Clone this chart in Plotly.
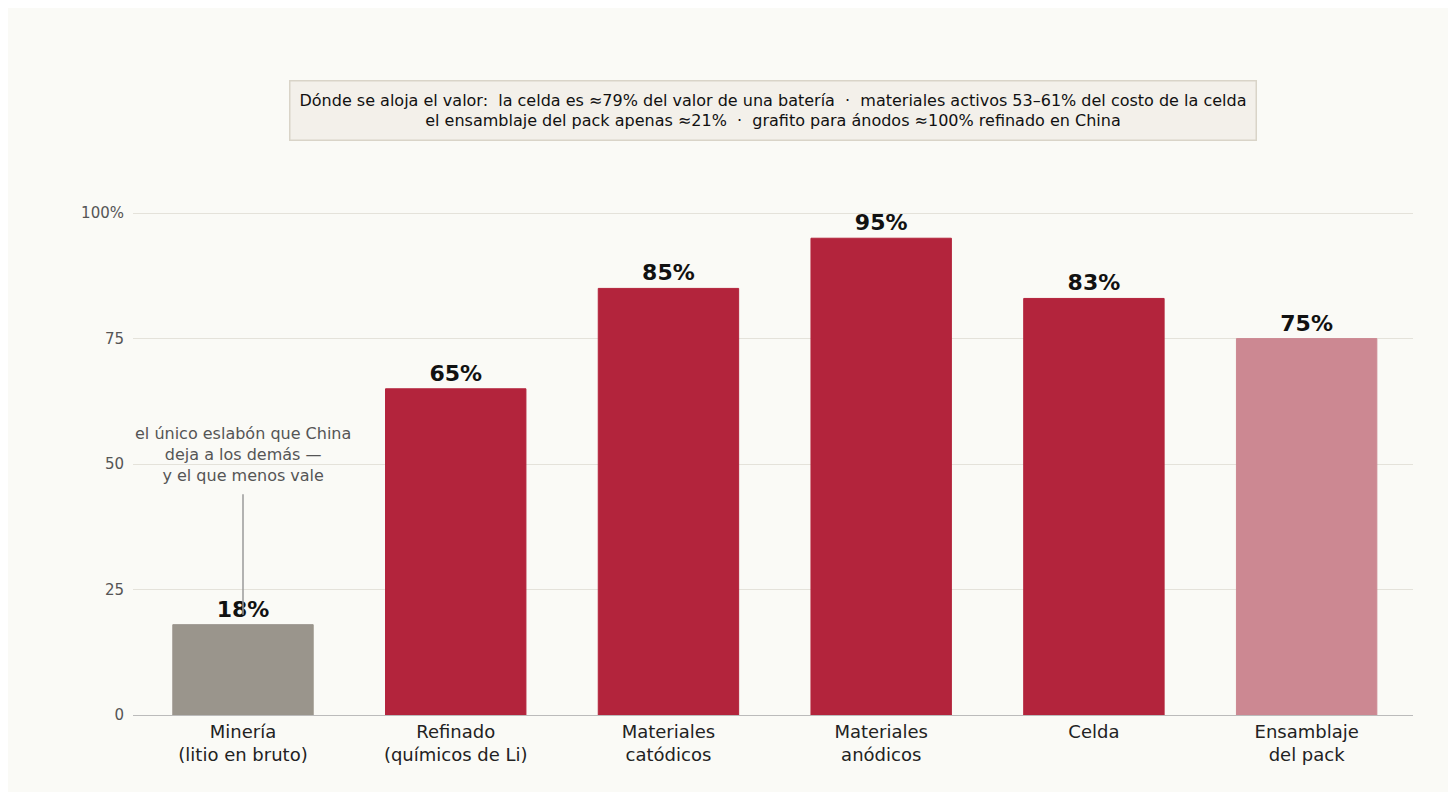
import plotly.graph_objects as go

categories = ["Minería<br>(litio en bruto)", "Refinado<br>(químicos de Li)", "Materiales<br>catódicos",
              "Materiales<br>anódicos", "Celda", "Ensamblaje<br>del pack"]
values = [18, 65, 85, 95, 83, 75]
colors = ["#9a958c", "#b3243c", "#b3243c", "#b3243c", "#b3243c", "#cc8892"]
labels = [f"{v}%" for v in values]
ytickvals = [0, 25, 50, 75, 100]
yticktext = ["0", "25", "50", "75", "100%"]

fig = go.Figure(go.Bar(
    x=categories, y=values, marker=dict(color=colors, line=dict(color=colors, width=1)),
    text=labels, textposition="outside", cliponaxis=False,
    textfont=dict(family="DejaVu Sans", size=22, color="#111111"),
    texttemplate="<b>%{text}</b>", width=0.66))

fig.add_shape(type="line", x0=0, x1=0, y0=20, y1=44, xref="x", yref="y",
              line=dict(color="#9a9a9a", width=1.5))
fig.add_annotation(x=0, y=52, xref="x", yref="y", showarrow=False,
                   text="el único eslabón que China<br>deja a los demás —<br>y el que menos vale",
                   font=dict(family="DejaVu Sans", size=16, color="#555555"))
fig.add_annotation(x=0.5, y=1.0, xref="paper", yref="paper", yanchor="top", showarrow=False,
                   yshift=98,
                   text="Dónde se aloja el valor:  la celda es ≈79% del valor de una batería  ·  materiales activos 53–61% del costo de la celda<br>el ensamblaje del pack apenas ≈21%  ·  grafito para ánodos ≈100% refinado en China",
                   font=dict(family="DejaVu Sans", size=16, color="#111111"),
                   bgcolor="#f3f0ea", bordercolor="#d9d4c8", borderwidth=1.5, borderpad=9)

fig.update_layout(
    width=1456, height=792, paper_bgcolor="#fafaf6", plot_bgcolor="#fafaf6",
    margin=dict(l=125, r=51, t=170, b=85), showlegend=False, bargap=0.34,
    font=dict(family="DejaVu Sans"),
    xaxis=dict(tickfont=dict(size=18, color="#222222"), showline=True, linecolor="#bbbbbb",
               ticks="", showgrid=False),
    yaxis=dict(range=[0, 107], tickvals=ytickvals, ticktext=yticktext,
               tickfont=dict(size=15, color="#555555"), gridcolor="#e4e2da",
               zeroline=False, showline=False, ticklabelstandoff=8))
fig.write_html("out.html")
